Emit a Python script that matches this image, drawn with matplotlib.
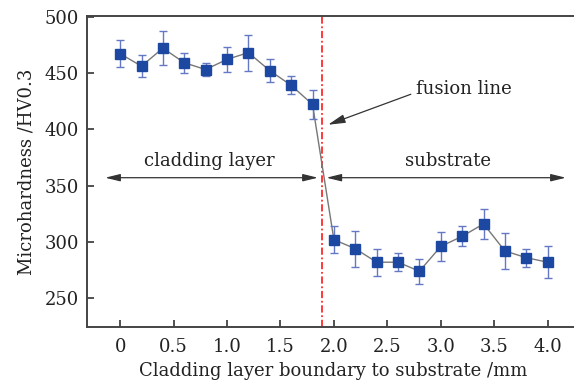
import matplotlib
matplotlib.use("Agg")
import matplotlib.pyplot as plt

distance_mm = [0.0, 0.2, 0.4, 0.6, 0.8, 1.0, 1.2, 1.4, 1.6, 1.8,
               2.0, 2.2, 2.4, 2.6, 2.8, 3.0, 3.2, 3.4, 3.6, 3.8, 4.0]
hardness = [467, 456, 472, 459, 453, 462, 468, 452, 439, 422,
            302, 294, 282, 282, 274, 296, 305, 316, 292, 286, 282]
hardness_err = [12, 10, 15, 9, 6, 11, 16, 10, 8, 13,
                12, 16, 12, 8, 11, 13, 9, 13, 16, 8, 14]
x_ticks = [0, 0.5, 1.0, 1.5, 2.0, 2.5, 3.0, 3.5, 4.0]
x_tick_labels = ["0", "0.5", "1.0", "1.5", "2.0", "2.5", "3.0", "3.5", "4.0"]
y_ticks = [250, 300, 350, 400, 450, 500]
fusion_x = 1.89
region_arrow_y = 357
x_label = "Cladding layer boundary to substrate /mm"
y_label = "Microhardness /HV0.3"

plt.rcParams['font.family'] = ['DejaVu Serif']
plt.rcParams['mathtext.fontset'] = 'dejavuserif'

fig = plt.figure(figsize=(5.74, 3.85), dpi=100)
ax = fig.add_axes([87/574, 1 - 327/385, (574 - 87)/574 + 0.01, (327 - 16)/385])

ax.plot(distance_mm, hardness, color="#777777", lw=1.0, zorder=2)
ax.errorbar(distance_mm, hardness, yerr=hardness_err, fmt="none",
            ecolor="#6478c4", elinewidth=1.0, capsize=3, capthick=1.0, zorder=3)
ax.plot(distance_mm, hardness, ls="none", marker="s", ms=7,
        color="#1c48a2", mec="#1c48a2", zorder=4)

ax.axvline(fusion_x, color="#ff2a2a", lw=1.3, ls=(0, (4, 1.5, 1, 1.5)), zorder=1)

arrow_kw = dict(arrowstyle="<|-|>,head_length=0.9,head_width=0.22",
                color="#333333", lw=0.9, shrinkA=0, shrinkB=0)
ax.annotate("", xy=(-0.14, region_arrow_y), xytext=(1.85, region_arrow_y),
            arrowprops=arrow_kw)
ax.annotate("", xy=(1.93, region_arrow_y), xytext=(4.17, region_arrow_y),
            arrowprops=arrow_kw)
ax.text(0.83, region_arrow_y + 7, "cladding layer", ha="center", va="bottom",
        fontsize=13, color="#222222")
ax.text(3.07, region_arrow_y + 7, "substrate", ha="center", va="bottom",
        fontsize=13, color="#222222")
ax.annotate("fusion line", xy=(1.945, 404), xytext=(2.77, 436),
            ha="left", va="center", fontsize=13, color="#222222",
            arrowprops=dict(arrowstyle="-|>,head_length=0.8,head_width=0.2",
                            color="#333333", lw=0.9, shrinkA=2, shrinkB=0,
                            relpos=(0, 0.3)))

ax.set_xlim(-0.31, 4.3)
ax.set_ylim(224.5, 500.5)
ax.set_xticks(x_ticks)
ax.set_xticklabels(x_tick_labels)
ax.set_yticks(y_ticks)
ax.tick_params(direction="in", length=5, width=1.2, colors="#333333",
               labelsize=13, labelcolor="#222222", pad=8)
ax.tick_params(axis="y", pad=6)
for s in ["left", "bottom", "top"]:
    ax.spines[s].set_linewidth(1.4)
    ax.spines[s].set_color("#444444")
ax.spines["right"].set_visible(False)

ax.set_xlabel(x_label, fontsize=13, color="#222222", labelpad=4)
ax.set_ylabel(y_label, fontsize=13, color="#222222", labelpad=6)

fig.savefig("out.png", dpi=100)
